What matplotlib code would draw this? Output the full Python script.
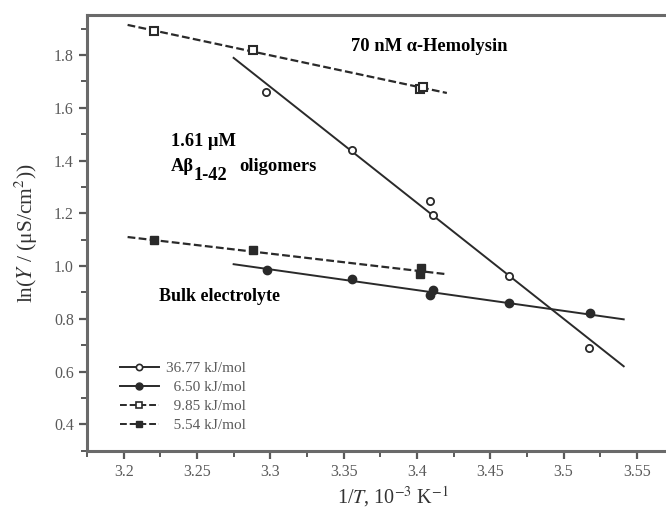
import numpy as np
import matplotlib.pyplot as plt
from matplotlib.ticker import MultipleLocator
from matplotlib.transforms import offset_copy

plt.rcParams['font.family'] = ['Liberation Serif', 'DejaVu Serif']
plt.rcParams['mathtext.fontset'] = 'stix'

# 70 nM alpha-hemolysin (open symbols)
x_hem_c = [3.297, 3.356, 3.409, 3.411, 3.463, 3.517]
y_hem_c = [1.66, 1.44, 1.246, 1.193, 0.962, 0.688]
# bulk electrolyte (filled circles)
x_bulk = [3.298, 3.356, 3.409, 3.411, 3.463, 3.518]
y_bulk = [0.984, 0.950, 0.889, 0.908, 0.859, 0.821]
# open squares, upper dashed series
x_hem_s = [3.2205, 3.288, 3.402, 3.404]
y_hem_s = [1.891, 1.819, 1.672, 1.678]
# filled squares, lower dashed series
x_abeta = [3.2205, 3.288, 3.402, 3.403]
y_abeta = [1.098, 1.060, 0.969, 0.992]

# Arrhenius fit lines (end points)
fit_hem_c = ([3.275, 3.541], [1.789, 0.620])
fit_bulk = ([3.275, 3.541], [1.007, 0.798])
fit_hem_s = ([3.2027, 3.4204], [1.914, 1.656])
fit_abeta = ([3.2027, 3.4204], [1.110, 0.969])

labels = ['36.77 kJ/mol', '\u20076.50 kJ/mol', '\u20079.85 kJ/mol', '\u20075.54 kJ/mol']

xticks = [3.2, 3.25, 3.3, 3.35, 3.4, 3.45, 3.5, 3.55]
yticks = [0.4, 0.6, 0.8, 1.0, 1.2, 1.4, 1.6, 1.8]

line_col = '#2a2a2a'
gray = '#5a5a5a'

fig = plt.figure(figsize=(6.66, 5.17), dpi=100)
ax = fig.add_axes([0.1306, 0.1282, 0.9204, 0.843])

dash = (3.5, 1.5)
ax.plot(*fit_hem_c, color=line_col, lw=1.4)
ax.plot(*fit_bulk, color=line_col, lw=1.4)
ax.plot(*fit_hem_s, color=line_col, lw=1.6, dashes=dash)
ax.plot(*fit_abeta, color=line_col, lw=1.6, dashes=dash)

ax.plot(x_hem_c, y_hem_c, 'o', ms=5.2, mfc='white', mec=line_col, mew=1.3)
ax.plot(x_bulk, y_bulk, 'o', ms=6, mfc=line_col, mec=line_col)
ax.plot(x_hem_s, y_hem_s, 's', ms=5.2, mfc='white', mec=line_col, mew=1.5)
ax.plot(x_abeta, y_abeta, 's', ms=5.5, mfc=line_col, mec=line_col)

# legend handles: line + marker
h1, = ax.plot([], [], '-o', color=line_col, lw=1.4, ms=4.5, mfc='white', mew=1.2)
h2, = ax.plot([], [], '-o', color=line_col, lw=1.4, ms=5)
h3, = ax.plot([], [], 's', ls=(0, dash), color=line_col, lw=1.4, ms=4.5, mfc='white', mew=1.2)
h4, = ax.plot([], [], 's', ls=(0, dash), color=line_col, lw=1.4, ms=5)
leg = ax.legend([h1, h2, h3, h4], labels, loc='lower left',
                bbox_to_anchor=(0.037, 0.018), frameon=False, fontsize=11,
                handlelength=2.5, handletextpad=0.5, labelspacing=0.35,
                borderpad=0.2)
for t in leg.get_texts():
    t.set_color(gray)

ax.set_xlim(3.175, 3.593)
ax.set_ylim(0.3, 1.952)
ax.set_xticks(xticks)
ax.set_xticklabels([f'{v:g}' for v in xticks])
ax.set_yticks(yticks)
ax.set_yticklabels([f'{v:.1f}' for v in yticks])
ax.xaxis.set_minor_locator(MultipleLocator(0.025))
ax.yaxis.set_minor_locator(MultipleLocator(0.1))
ax.tick_params(which='both', direction='out', color=gray, labelcolor=gray,
               labelsize=11.5)
ax.tick_params(which='major', length=6, width=1.6)
ax.tick_params(which='minor', length=4, width=1.4)

for s in ['left', 'bottom', 'top']:
    ax.spines[s].set_color('#6a6a6a')
    ax.spines[s].set_linewidth(2.2)
ax.spines['right'].set_visible(False)

ax.set_xlabel(r'1/$\it{T}$, 10$^{-3}$ K$^{-1}$', fontsize=14.5, color='#333333',
              labelpad=3)
ax.set_ylabel(r'ln($\it{Y}$ / (μS/cm$^2$))', fontsize=15.5, color='#333333',
              labelpad=10)

bold = dict(fontsize=13.3, fontweight='bold', va='baseline', ha='left')
ax.text(3.3549, 1.815, '70 nM α-Hemolysin', **bold)
ax.text(3.232, 1.455, '1.61 μM', **bold)

# A-beta label with a full-size, lowered subscript
fig.canvas.draw()
r = fig.canvas.get_renderer()
t_a = ax.text(3.232, 1.362, 'Aβ', **bold)
w = t_a.get_window_extent(r).width
t_s = ax.text(3.232, 1.362, '1-42',
              transform=offset_copy(ax.transData, fig=fig, x=w * 72 / fig.dpi,
                                    y=-7, units='points'), **bold)
w2 = t_s.get_window_extent(r).width
ax.text(3.232, 1.362, 'oligomers',
        transform=offset_copy(ax.transData, fig=fig,
                              x=(w + w2) * 72 / fig.dpi + 9, units='points'),
        **bold)

ax.text(3.224, 0.866, 'Bulk electrolyte', fontsize=13, fontweight='bold',
        va='baseline', ha='left')

fig.savefig('out.png', dpi=100)
